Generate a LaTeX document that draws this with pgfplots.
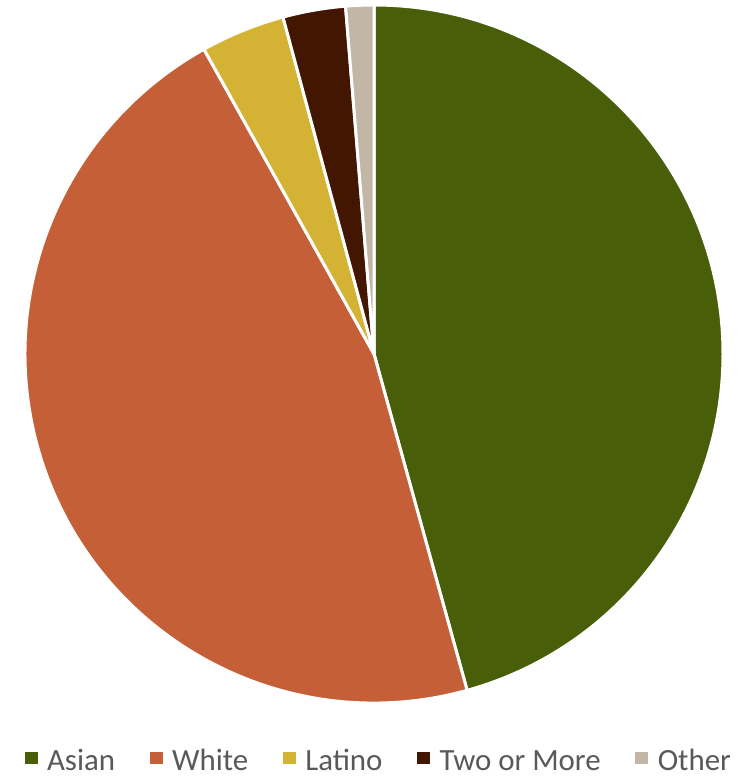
\documentclass[border=0pt]{standalone}
\usepackage{pgfplots}
\usepackage{pgfplotstable}
\pgfplotsset{compat=1.18}
\usepackage{fontspec}
\setmainfont{Carlito}

\definecolor{c0}{RGB}{73,94,8}
\definecolor{c1}{RGB}{197,95,56}
\definecolor{c2}{RGB}{212,178,52}
\definecolor{c3}{RGB}{66,22,0}
\definecolor{c4}{RGB}{194,182,166}
\definecolor{legendgray}{RGB}{89,89,89}

% share of each group, percent
\pgfplotstableread{
label share
Asian 45.7
White 46.2
Latino 3.9
TwoOrMore 2.9
Other 1.3
}\shares

\begin{document}
\begin{tikzpicture}
\begin{axis}[
x=1bp, y=1bp,
xmin=0, xmax=756, ymin=0, ymax=777,
scale only axis,
hide axis,
clip=false,
legend columns=5,
legend image code/.code={\fill (0bp,-3bp) rectangle (13bp,9bp);},
legend style={
  at={(axis cs:378.5,16)}, anchor=center, draw=none, fill=none,
  font=\fontsize{31}{34}\selectfont, text=legendgray,
  nodes={inner sep=1.5bp},
  /tikz/every odd column/.append style={column sep=8bp},
  /tikz/every even column/.append style={column sep=33bp},
},
]
\def\startangle{90}
\foreach \i in {0,...,4} {
  \pgfplotstablegetelem{\i}{share}\of\shares
  \pgfmathsetmacro{\endangle}{\startangle-3.6*\pgfplotsretval}
  \edef\temp{\noexpand\filldraw[fill=c\i, draw=white, line width=3bp]
    (axis cs:374,423) -- ++(\startangle:349bp)
    arc[start angle=\startangle, end angle=\endangle, radius=349bp] -- cycle;}
  \temp
  \xdef\startangle{\endangle}
}
\addlegendimage{fill=c0, draw=none}
\addlegendentry{Asian}
\addlegendimage{fill=c1, draw=none}
\addlegendentry{White}
\addlegendimage{fill=c2, draw=none}
\addlegendentry{Latino}
\addlegendimage{fill=c3, draw=none}
\addlegendentry{Two or More}
\addlegendimage{fill=c4, draw=none}
\addlegendentry{Other}
\end{axis}
\pgfresetboundingbox
\path (0,0) rectangle (756bp,777bp);
\end{tikzpicture}
\end{document}
